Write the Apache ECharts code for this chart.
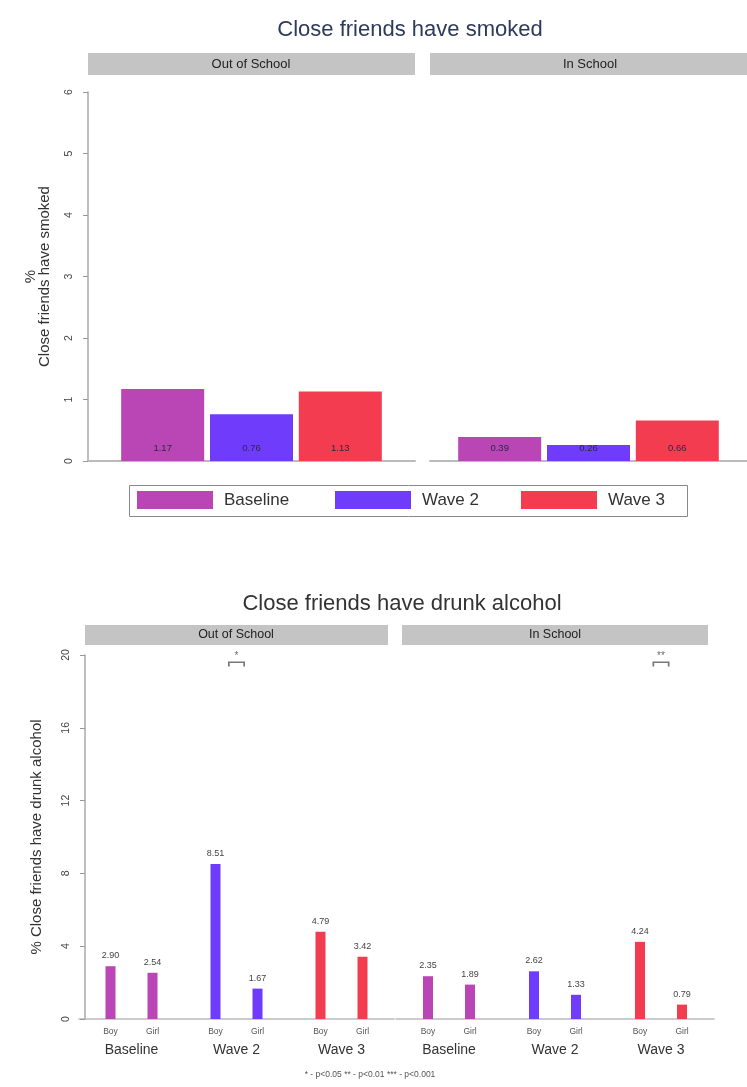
<!DOCTYPE html>
<html>
<head>
<meta charset="utf-8">
<script src="https://cdn.jsdelivr.net/npm/echarts@6/dist/echarts.min.js"></script>
<style>
html,body{margin:0;padding:0;background:#fff;}
#chart{width:747px;height:1087px;}
</style>
</head>
<body>
<div id="chart"></div>
<script>
// ---------- data ----------
const waves = ['Baseline', 'Wave 2', 'Wave 3'];
const genders = ['Boy', 'Girl'];
const waveColors = ['#b946b4', '#6e3cfa', '#f43c50'];

// Chart 1: Close friends have smoked (%)
const smokeOut = [1.17, 0.76, 1.13];
const smokeIn = [0.39, 0.26, 0.66];
const smokeTicks = [0, 1, 2, 3, 4, 5, 6];

// Chart 2: Close friends have drunk alcohol (%), by wave, Boy / Girl
const alcOutBoy = [2.90, 8.51, 4.79];
const alcOutGirl = [2.54, 1.67, 3.42];
const alcInBoy = [2.35, 2.62, 4.24];
const alcInGirl = [1.89, 1.33, 0.79];
const alcTicks = [0, 4, 8, 12, 16, 20];
const sigOut = ['', '*', ''];
const sigIn = ['', '', '**'];
const footnote = '* - p<0.05 ** - p<0.01 *** - p<0.001';

// ---------- chart ----------
const FONT = '"Liberation Sans", Arial, sans-serif';
const chart = echarts.init(document.getElementById('chart'));

function yAxisCfg(gridIndex, max, interval, show, name, gap, lh) {
  return {
    gridIndex, type: 'value', min: 0, max, interval,
    show,
    name: name || '', nameLocation: 'middle', nameRotate: 90,
    nameGap: gap || 40,
    nameTextStyle: { fontFamily: FONT, fontSize: 15, color: '#333', lineHeight: lh || 16, align: 'center' },
    axisLine: { show: true, lineStyle: { color: '#aaa', width: 1.5 } },
    axisTick: { show: true, length: 5, lineStyle: { color: '#999' } },
    axisLabel: { rotate: 90, fontFamily: FONT, fontSize: 10.5, color: '#444', margin: 13 },
    splitLine: { show: false }
  };
}

const bottomLabel = {
  interval: 0,
  margin: 6,
  formatter: function (v) { return '{g|' + genders[0] + '}{g|' + genders[1] + '}\n{w|' + v + '}'; },
  rich: {
    g: { width: 42, align: 'center', fontFamily: FONT, fontSize: 8.5, color: '#555', lineHeight: 14 },
    w: { fontFamily: FONT, fontSize: 14, color: '#333', lineHeight: 22, align: 'center' }
  }
};

function xAxisTop(gridIndex) {
  return {
    gridIndex, type: 'category', data: ['all'],
    axisLine: { lineStyle: { color: '#bbb', width: 2 } },
    axisTick: { show: false }, axisLabel: { show: false }
  };
}
function xAxisBottom(gridIndex) {
  return {
    gridIndex, type: 'category', data: waves,
    axisLine: { lineStyle: { color: '#bbb', width: 1.5 } },
    axisTick: { show: false }, axisLabel: bottomLabel
  };
}

const series = [];
// top chart series
[smokeOut, smokeIn].forEach(function (arr, gi) {
  waves.forEach(function (w, i) {
    series.push({
      name: w, type: 'bar', xAxisIndex: gi, yAxisIndex: gi,
      data: [arr[i]], barWidth: 83, barGap: '7%',
      itemStyle: { color: waveColors[i] },
      label: {
        show: true, position: 'insideBottom', distance: 8,
        fontFamily: FONT, fontSize: 9.5, color: '#2a2a44',
        formatter: function (p) { return p.value.toFixed(2); }
      }
    });
  });
});
// bottom chart series
[[alcOutBoy, alcOutGirl, sigOut], [alcInBoy, alcInGirl, sigIn]].forEach(function (set, k) {
  const gi = 2 + k;
  [0, 1].forEach(function (g) {
    series.push({
      name: genders[g], type: 'bar', xAxisIndex: gi, yAxisIndex: gi,
      barWidth: 10, barGap: '320%',
      data: set[g].map(function (v, i) { return { value: v, itemStyle: { color: waveColors[i] } }; }),
      label: {
        show: true, position: 'top', distance: 6,
        fontFamily: FONT, fontSize: 9, color: '#444',
        formatter: function (p) { return p.value.toFixed(2); }
      }
    });
  });
  series.push({
    name: 'sig', type: 'scatter', xAxisIndex: gi, yAxisIndex: gi,
    data: set[2].map(function (s) { return s ? { value: 19.5, sig: s } : '-'; }),
    symbol: 'path://M0,0 L20,0 L20,7 L18,7 L18,2 L2,2 L2,7 L0,7 Z',
    symbolSize: [17, 5],
    itemStyle: { color: '#555' },
    label: {
      show: true, position: 'top', distance: 0,
      fontFamily: FONT, fontSize: 10, color: '#444',
      formatter: function (p) { return p.data.sig; }
    },
    silent: true
  });
});

const legendLefts = [137, 335, 521];
const legends = waves.map(function (w, i) {
  return {
    data: [w], left: legendLefts[i], top: 491, padding: 0,
    itemWidth: 76, itemHeight: 18, icon: 'rect',
    textStyle: { fontFamily: FONT, fontSize: 17, color: '#333', padding: [0, 0, 0, 6] }
  };
});

const option = {
  backgroundColor: '#fff',
  animation: false,
  textStyle: { fontFamily: FONT },
  title: [
    { text: 'Close friends have smoked', left: 405, top: 14, textAlign: 'center',
      textStyle: { fontFamily: FONT, fontSize: 22, fontWeight: 'normal', color: '#2e3a5c' } },
    { text: 'Close friends have drunk alcohol', left: 397, top: 588, textAlign: 'center',
      textStyle: { fontFamily: FONT, fontSize: 22, fontWeight: 'normal', color: '#333' } },
    { text: footnote, left: 365, top: 1065, textAlign: 'center',
      textStyle: { fontFamily: FONT, fontSize: 8.5, fontWeight: 'normal', color: '#555' } }
  ],
  legend: legends,
  grid: [
    { left: 88, width: 327, top: 92, height: 369 },
    { left: 430, width: 327, top: 92, height: 369 },
    { left: 79, width: 315, top: 655, height: 364 },
    { left: 396, width: 318, top: 655, height: 364 }
  ],
  xAxis: [xAxisTop(0), xAxisTop(1), xAxisBottom(2), xAxisBottom(3)],
  yAxis: [
    yAxisCfg(0, smokeTicks[smokeTicks.length - 1], smokeTicks[1] - smokeTicks[0], true, '%\nClose friends have smoked', 36, 14),
    yAxisCfg(1, smokeTicks[smokeTicks.length - 1], smokeTicks[1] - smokeTicks[0], false),
    Object.assign(yAxisCfg(2, alcTicks[alcTicks.length - 1], alcTicks[1] - alcTicks[0], true, '% Close friends have drunk alcohol', 40), { offset: -6 }),
    yAxisCfg(3, alcTicks[alcTicks.length - 1], alcTicks[1] - alcTicks[0], false)
  ],
  graphic: [
    { type: 'rect', shape: { x: 129.5, y: 485.5, width: 558, height: 31 }, style: { fill: 'none', stroke: '#888', lineWidth: 1 }, silent: true },
    { type: 'rect', shape: { x: 88, y: 53, width: 327, height: 22 }, style: { fill: '#c4c4c4' }, silent: true },
    { type: 'rect', shape: { x: 430, y: 53, width: 330, height: 22 }, style: { fill: '#c4c4c4' }, silent: true },
    { type: 'text', x: 251, y: 64, style: { text: 'Out of School', fontFamily: FONT, fontSize: 13, fill: '#222', align: 'center', verticalAlign: 'middle' } },
    { type: 'text', x: 590, y: 64, style: { text: 'In School', fontFamily: FONT, fontSize: 13, fill: '#222', align: 'center', verticalAlign: 'middle' } },
    { type: 'rect', shape: { x: 85, y: 625, width: 303, height: 20 }, style: { fill: '#c4c4c4' }, silent: true },
    { type: 'rect', shape: { x: 402, y: 625, width: 306, height: 20 }, style: { fill: '#c4c4c4' }, silent: true },
    { type: 'text', x: 236, y: 635, style: { text: 'Out of School', fontFamily: FONT, fontSize: 12.5, fill: '#222', align: 'center', verticalAlign: 'middle' } },
    { type: 'text', x: 555, y: 635, style: { text: 'In School', fontFamily: FONT, fontSize: 12.5, fill: '#222', align: 'center', verticalAlign: 'middle' } }
  ],
  series
};
chart.setOption(option);
</script>
</body>
</html>
